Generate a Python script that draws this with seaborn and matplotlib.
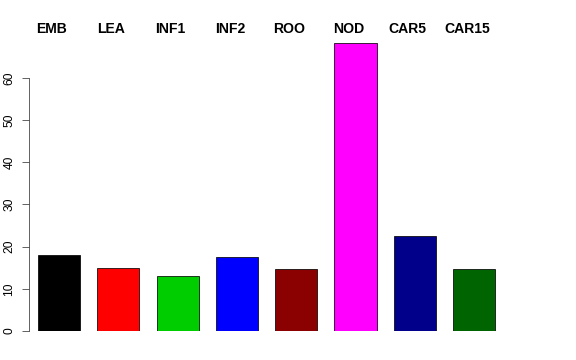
import numpy as np
import pandas as pd
import matplotlib
matplotlib.use("Agg")
import matplotlib.pyplot as plt
import matplotlib.transforms as mtransforms
import seaborn as sns

# data
tissues = ["EMB", "LEA", "INF1", "INF2", "ROO", "NOD", "CAR5", "CAR15"]
values = [18.0, 15.0, 13.0, 17.5, 14.7, 68.2, 22.5, 14.7]
bar_colors = ["#000000", "#FF0000", "#00CD00", "#0000FF",
              "#8B0000", "#FF00FF", "#00008B", "#006400"]

df = pd.DataFrame({"tissue": tissues, "value": values})

sns.set_style("white")
plt.rcParams["font.family"] = ["Liberation Sans", "DejaVu Sans"]
plt.rcParams["text.color"] = "black"
plt.rcParams["ytick.color"] = "black"
plt.rcParams["ytick.labelcolor"] = "black"

# 72 dpi so that point sizes equal pixels
fig = plt.figure(figsize=(8, 5), dpi=72)
ax = fig.add_axes([29 / 576, 29 / 360, (560 - 29) / 576, 72 * 4.2167 / 360])

sns.barplot(data=df, x="tissue", y="value", hue="tissue",
            palette=dict(zip(tissues, bar_colors)), legend=False,
            width=0.71, edgecolor="black", linewidth=0.75, saturation=1,
            ax=ax)

ax.set_xlim(-0.506, 8.449)
ax.set_ylim(0, 72)
ax.set_xlabel("")
ax.set_ylabel("")
ax.set_xticks([])
ax.set_yticks(np.arange(0, 61, 10))
ax.tick_params(axis="y", direction="out", length=7.5, width=0.75, pad=6,
               labelsize=12, left=True, labelrotation=90,
               color="#333333", labelcolor="black")
for lbl in ax.get_yticklabels():
    lbl.set_va("center")

for s in ["top", "right", "bottom"]:
    ax.spines[s].set_visible(False)
ax.spines["left"].set_bounds(0, 60)
ax.spines["left"].set_linewidth(0.75)
ax.spines["left"].set_color("#333333")

# tissue names above the plot
trans = mtransforms.blended_transform_factory(ax.transData, fig.transFigure)
for i, name in enumerate(tissues):
    ax.text(i - 0.12, (360 - 29) / 360, name, transform=trans,
            ha="center", va="center", fontsize=14, fontweight="bold",
            color="black")

fig.savefig("out.png", dpi=72)
plt.close(fig)
